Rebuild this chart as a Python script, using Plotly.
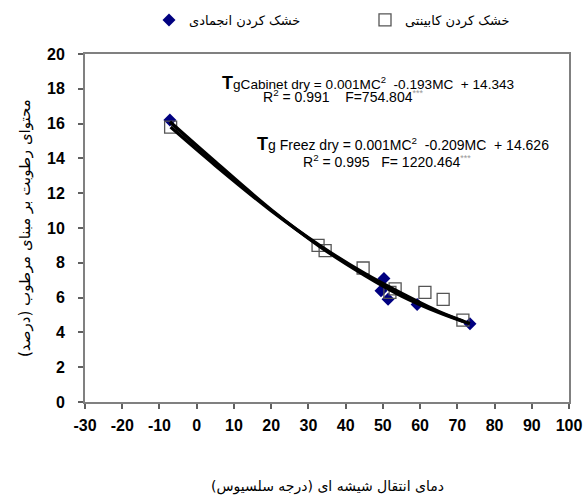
import plotly.graph_objects as go

# Data
freeze_x = [-7.2, 49.5, 50.3, 51.4, 59.2, 73.4]
freeze_y = [16.2, 6.4, 7.1, 5.9, 5.6, 4.5]
cab_x = [-7.0, 32.6, 34.5, 44.7, 51.9, 53.3, 61.3, 66.2, 71.5]
cab_y = [15.8, 9.0, 8.7, 7.7, 6.3, 6.5, 6.3, 5.9, 4.7]

# Trend lines at a few x positions
cab_trend_x = [-7.0, 5, 20, 33, 45, 55, 65, 71.5]
cab_trend_y = [15.8, 13.6, 11.0, 9.0, 7.4, 6.25, 5.2, 4.65]
freeze_trend_x = [-7.2, 5, 20, 33, 45, 55, 65, 73.4]
freeze_trend_y = [16.1, 13.8, 11.05, 8.95, 7.3, 6.1, 5.15, 4.5]

freeze_name = "خشک کردن انجمادی"
cab_name = "خشک کردن کابینتی"
x_title = "دمای انتقال شیشه ای (درجه سلسیوس)"
y_title = "محتوای رطوبت بر مبنای مرطوب (درصد)"

x_ticks = list(range(-30, 101, 10))
x_labels = [str(v) for v in x_ticks]
y_ticks = list(range(0, 21, 2))
y_labels = [str(v) for v in y_ticks]

fa_font = "DejaVu Sans"
num_font = "Liberation Sans, Arial"

fig = go.Figure()
fig.add_trace(go.Scatter(
    x=freeze_x, y=freeze_y, mode="markers", name=freeze_name,
    marker=dict(symbol="diamond", size=10, color="#000080",
                line=dict(width=0))))
fig.add_trace(go.Scatter(
    x=cab_x, y=cab_y, mode="markers", name=cab_name,
    marker=dict(symbol="square-open", size=12, color="#555555",
                line=dict(width=1.3))))

for tx, ty in [(cab_trend_x, cab_trend_y), (freeze_trend_x, freeze_trend_y)]:
    fig.add_trace(go.Scatter(x=tx, y=ty, mode="lines", showlegend=False,
                             hoverinfo="skip",
                             line=dict(color="black", width=3.4,
                                       shape="spline", smoothing=1.0)))

L, R, T, B = 85, 16, 54, 95
W, H = 585, 497
pw, ph = W - L - R, H - T - B


def px(xp):
    return (xp - L) / pw


def py(yp):
    return (H - B - yp) / ph


ann_font = dict(family=num_font, size=14, color="black")
star = "<sup><span style='color:#999999;font-size:9px'>***</span></sup>"
bigT = "<b><span style='font-size:18px'>T</span></b>"
sp = "&nbsp;"
annotations = [
    dict(text=bigT + "gCabinet dry = 0.001MC<sup>2</sup>" + sp
         + " -0.193MC" + sp + " + 14.343",
         x=px(368), y=py(83), font=dict(family=num_font, size=13.6,
                                        color="black")),
    dict(text="R<sup>2</sup> = 0.991" + sp * 3 + " F=754.804" + star,
         x=px(343), y=py(96)),
    dict(text=bigT + "g Freez dry = 0.001MC<sup>2</sup>" + sp
         + " -0.209MC" + sp + " + 14.626",
         x=px(403), y=py(144)),
    dict(text="R<sup>2</sup> = 0.995" + sp * 2 + " F= 1220.464" + star,
         x=px(387), y=py(161)),
]
for a in annotations:
    a.setdefault("font", ann_font)
    a.update(xref="paper", yref="paper", showarrow=False,
             xanchor="center", yanchor="middle")

annotations.append(dict(text=y_title, xref="paper", yref="paper",
                        x=px(25), y=py(228), textangle=-90, showarrow=False,
                        font=dict(family=fa_font, size=15, color="black"),
                        xanchor="center", yanchor="middle"))
annotations.append(dict(text=x_title, xref="paper", yref="paper",
                        x=px(327), y=py(486), showarrow=False,
                        font=dict(family=fa_font, size=14, color="black"),
                        xanchor="center", yanchor="middle"))

axis_common = dict(showgrid=False, zeroline=False, showline=True,
                   linecolor="#808080", linewidth=2, mirror=True,
                   ticks="outside", ticklen=5, tickcolor="#606060",
                   tickwidth=1.5,
                   tickfont=dict(family=num_font, size=16, color="black",
                                 weight="bold"))

fig.update_layout(
    width=W, height=H,
    margin=dict(l=L, r=R, t=T, b=B, autoexpand=False),
    paper_bgcolor="white", plot_bgcolor="white",
    xaxis=dict(range=[-30, 100], tickvals=x_ticks, ticktext=x_labels,
               ticklabelstandoff=3, **axis_common),
    yaxis=dict(range=[0, 20], tickvals=y_ticks, ticktext=y_labels,
               ticklabelstandoff=10, **axis_common),
    legend=dict(orientation="h", x=px(149), y=py(20), xanchor="left",
                yanchor="middle", entrywidth=171, entrywidthmode="pixels",
                font=dict(family=fa_font, size=13, color="black"),
                bgcolor="rgba(0,0,0,0)"),
    annotations=annotations,
    showlegend=True,
)

fig.write_html("out.html",
               config={"displayModeBar": False},
               post_script="document.body.style.margin='0';"
                           "document.body.style.padding='0';")
